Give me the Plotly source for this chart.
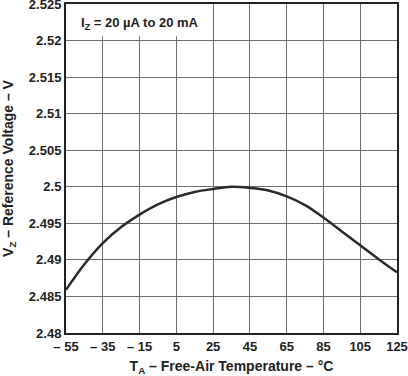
import plotly.graph_objects as go

# Data
temperature_c = [-55, -45, -35, -25, -15, -5, 5, 15, 25, 35, 45, 55, 65, 75, 85, 95, 105, 115, 125]
vz_volts = [2.4859, 2.4894, 2.4923, 2.4945, 2.4962, 2.4976, 2.4986, 2.4993, 2.4997, 2.5000, 2.49985,
            2.4995, 2.4987, 2.4975, 2.4958, 2.4939, 2.4920, 2.4901, 2.4883]

x_tick_vals = [-55, -35, -15, 5, 25, 45, 65, 85, 105, 125]
x_tick_text = ["– 55", "– 35", "– 15", "5", "25", "45", "65", "85", "105", "125"]
y_tick_vals = [2.48, 2.485, 2.49, 2.495, 2.5, 2.505, 2.51, 2.515, 2.52, 2.525]
y_tick_text = ["2.48", "2.485", "2.49", "2.495", "2.5", "2.505", "2.51", "2.515", "2.52", "2.525"]

FONT = "Liberation Sans, Arial, sans-serif"
INK = "#222222"

fig = go.Figure()
fig.add_trace(go.Scatter(
    x=temperature_c, y=vz_volts, mode="lines",
    line=dict(color="#2b2b2b", width=2.5, shape="spline", smoothing=1.0),
    showlegend=False, hoverinfo="skip",
))

fig.add_shape(type="rect", xref="x", yref="y", x0=-55, x1=24.3, y0=2.5206, y1=2.525,
              fillcolor="white", line=dict(width=0), layer="between")

fig.add_annotation(
    xref="x", yref="y", x=-48, y=2.5223, xanchor="left", yanchor="middle",
    text="I<sub>Z</sub> = 20 µA to 20 mA", showarrow=False,
    font=dict(family=FONT, size=13, color=INK, weight="bold"),
)

axis_common = dict(
    showgrid=True, gridcolor="#6e6e6e", gridwidth=1,
    showline=True, linecolor="#222222", linewidth=2, mirror=True,
    ticks="", zeroline=False, automargin=False, ticklabeloverflow="allow",
    tickfont=dict(family=FONT, size=13, color=INK, weight="bold"),
)

fig.update_xaxes(
    range=[-55, 125.001], tickmode="array", tickvals=x_tick_vals, ticktext=x_tick_text,
    title=dict(text="T<sub>A</sub> – Free-Air Temperature – °C",
               font=dict(family=FONT, size=14, color=INK, weight="bold")),
    **axis_common,
)
fig.update_yaxes(
    range=[2.48, 2.52501], tickmode="array", tickvals=y_tick_vals, ticktext=y_tick_text,
    title=dict(text="V<sub>Z</sub> – Reference Voltage – V",
               font=dict(family=FONT, size=14, color=INK, weight="bold")),
    **axis_common,
)

fig.update_layout(
    width=408, height=376,
    margin=dict(l=66, r=11, t=4, b=43, pad=0),
    paper_bgcolor="white", plot_bgcolor="white",
)

fig.write_html(
    "out.html",
    config={"displayModeBar": False},
    post_script="document.body.style.margin='0';document.body.style.padding='0';",
)
